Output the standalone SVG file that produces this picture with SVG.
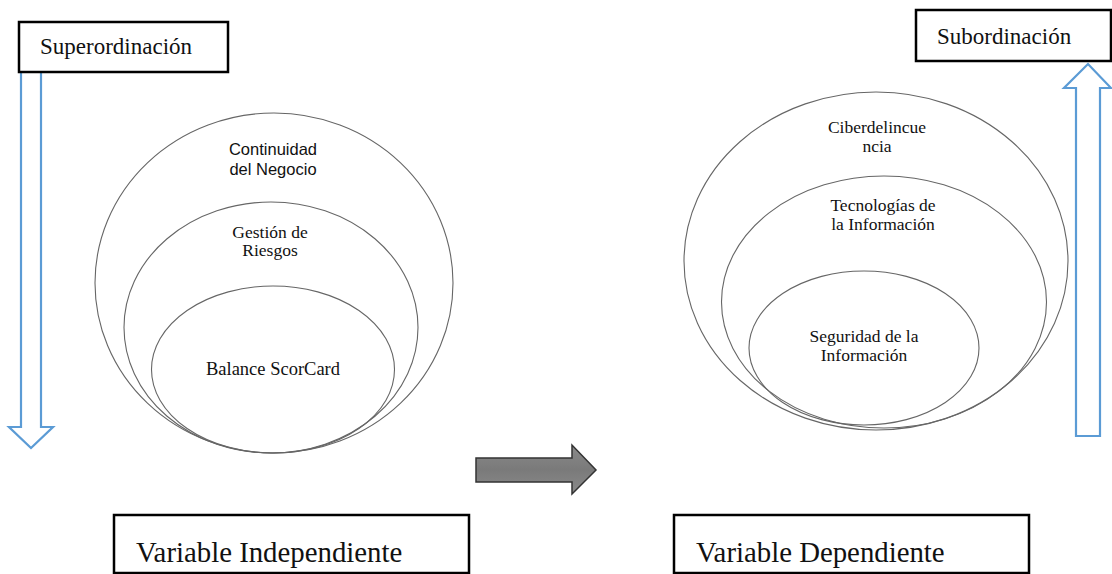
<svg xmlns="http://www.w3.org/2000/svg" width="1112" height="574" viewBox="0 0 1112 574">
<defs>
<linearGradient id="g" x1="0" y1="0" x2="0" y2="1">
<stop offset="0" stop-color="#8a8a8a"/>
<stop offset="0.5" stop-color="#7a7a7a"/>
<stop offset="1" stop-color="#8a8a8a"/>
</linearGradient>
</defs>
<style>
.box{fill:#fff;stroke:#000;stroke-width:2.5}
.ell{fill:none;stroke:#666;stroke-width:1.1}
.blue{fill:#fff;stroke:#5B9BD5;stroke-width:2.2}
.serif{font-family:"Liberation Serif","Times New Roman",serif;fill:#111}
.sans{font-family:"Liberation Sans",Arial,sans-serif;fill:#111}
.c{text-anchor:middle}
</style>
<rect width="1112" height="574" fill="#fff"/>
<g id="connectors">
<path class="blue" d="M21,72 L41,72 L41,427 L53,427 L31,448 L9,427 L21,427 Z"/>
<path class="blue" d="M1076,436 L1100,436 L1100,88 L1111,88 L1088,64 L1064,88 L1076,88 Z"/>
<path d="M476,458 L572,458 L572,445 L596,470 L572,494 L572,482 L476,482 Z" fill="url(#g)" stroke="#333" stroke-width="1.5"/>
</g>
<g id="superordinacion">
<rect class="box" x="19" y="22" width="209" height="50"/>
<text class="serif" x="40" y="54" font-size="23">Superordinación</text>
</g>
<g id="subordinacion">
<rect class="box" x="916" y="10" width="195" height="51"/>
<text class="serif" x="937" y="44" font-size="23">Subordinación</text>
</g>
<g id="continuidad">
<ellipse class="ell" cx="274" cy="283" rx="179" ry="170"/>
<text class="sans c" x="273" y="155" font-size="16.5">Continuidad</text>
<text class="sans c" x="273" y="175" font-size="16.5">del Negocio</text>
</g>
<g id="gestion">
<ellipse class="ell" cx="271" cy="327.5" rx="147" ry="125.5"/>
<text class="serif c" x="270" y="237.5" font-size="17.5">Gestión de</text>
<text class="serif c" x="270" y="256" font-size="17.5">Riesgos</text>
</g>
<g id="balance">
<ellipse class="ell" cx="273" cy="369.5" rx="121.5" ry="83.5"/>
<text class="serif c" x="273" y="375" font-size="18.5">Balance ScorCard</text>
</g>
<g id="ciber">
<ellipse class="ell" cx="876" cy="261" rx="192" ry="169"/>
<text class="serif c" x="877" y="133" font-size="17.5">Ciberdelincue</text>
<text class="serif c" x="877" y="152" font-size="17.5">ncia</text>
</g>
<g id="tecnologias">
<ellipse class="ell" cx="884" cy="302" rx="162.5" ry="126"/>
<text class="serif c" x="883" y="211" font-size="17.5">Tecnologías de</text>
<text class="serif c" x="883" y="230" font-size="17.5">la Información</text>
</g>
<g id="seguridad">
<ellipse class="ell" cx="864" cy="348" rx="115" ry="77"/>
<text class="serif c" x="864" y="342" font-size="17.5">Seguridad de la</text>
<text class="serif c" x="864" y="361" font-size="17.5">Información</text>
</g>
<g id="independiente">
<rect class="box" x="114" y="515" width="355" height="58"/>
<text class="serif" x="136" y="561.5" font-size="28.8">Variable Independiente</text>
</g>
<g id="dependiente">
<rect class="box" x="674" y="515" width="355" height="58"/>
<text class="serif" x="696" y="561.5" font-size="28.8">Variable Dependiente</text>
</g>
</svg>
